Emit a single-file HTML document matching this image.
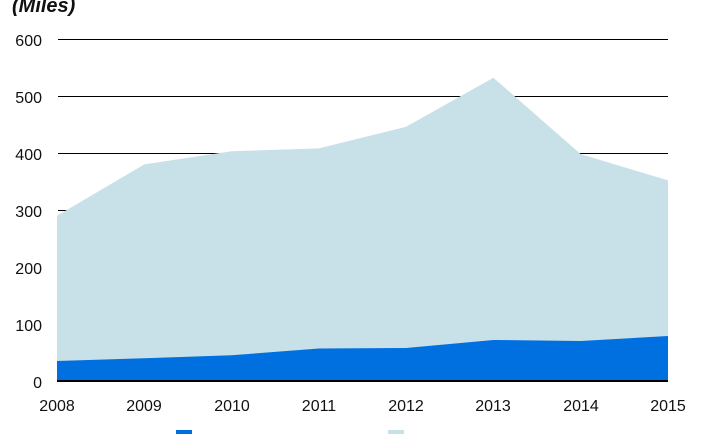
<!DOCTYPE html>
<html><head><style>
body{margin:0;background:#fff;}
svg text{font-family:"Liberation Sans",sans-serif;font-size:16px;fill:#111;}
</style></head><body>
<svg width="701" height="434" viewBox="0 0 701 434">
<text x="12" y="12" style="font-style:italic;font-size:20px;font-weight:bold">(Miles)</text>
<g stroke="#000" stroke-width="1">
<line x1="58" y1="39.5" x2="668" y2="39.5"/>
<line x1="58" y1="96.5" x2="668" y2="96.5"/>
<line x1="58" y1="153.5" x2="668" y2="153.5"/>
<line x1="58" y1="210.5" x2="668" y2="210.5"/>
<line x1="58" y1="267.5" x2="668" y2="267.5"/>
<line x1="58" y1="324.5" x2="668" y2="324.5"/>
</g>
<polygon fill="#c8e0e8" points="57,215.7 144.3,164.4 231.6,151.3 318.9,148.4 406.1,126.8 493.4,77.8 580.7,154.1 668,180.4 668,381 57,381"/>
<polygon fill="#006fe0" points="57,361 144.3,358.2 231.6,355.3 318.9,348.5 406.1,348 493.4,340 580.7,341 668,336 668,381 57,381"/>
<line x1="57" y1="381" x2="668" y2="381" stroke="#000" stroke-width="2"/>
<g text-anchor="end">
<text x="42" y="46">600</text><text x="42" y="103">500</text><text x="42" y="160">400</text>
<text x="42" y="217">300</text><text x="42" y="274">200</text><text x="42" y="331">100</text><text x="42" y="388">0</text>
</g>
<g text-anchor="middle">
<text x="57" y="411">2008</text><text x="144" y="411">2009</text><text x="232" y="411">2010</text><text x="319" y="411">2011</text>
<text x="406" y="411">2012</text><text x="493" y="411">2013</text><text x="581" y="411">2014</text><text x="668" y="411">2015</text>
</g>
<rect x="176" y="430" width="16" height="4" fill="#006fe0"/>
<rect x="388" y="430" width="16" height="4" fill="#c8e0e8"/>
</svg>
</body></html>
